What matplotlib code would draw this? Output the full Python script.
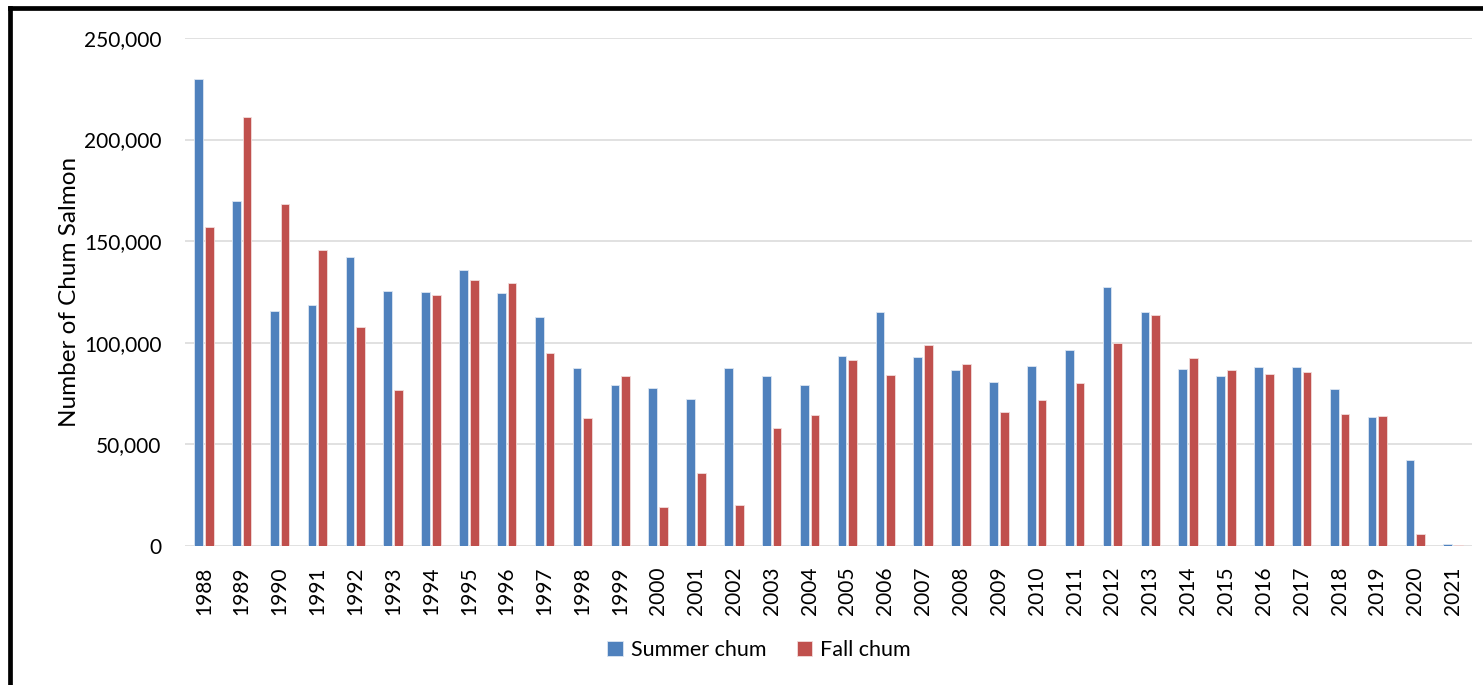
import numpy as np
import matplotlib.pyplot as plt
from matplotlib.lines import Line2D
from matplotlib.ticker import FuncFormatter

years = [str(y) for y in range(1988, 2022)]
summer_chum = [230000, 169600, 115500, 118600, 142100, 125500, 124800, 136000,
               124600, 112800, 87400, 79200, 77700, 72300, 87400, 83600,
               79200, 93300, 115300, 93000, 86600, 80600, 88500, 96400,
               127400, 115100, 87000, 83600, 88000, 87900, 77300, 63400,
               42400, 1000]
fall_chum = [156900, 211200, 168100, 145400, 107700, 76700, 123500, 130700,
             129200, 94900, 62800, 83400, 19100, 35800, 19900, 57800,
             64400, 91500, 84100, 98900, 89500, 66000, 71800, 80300,
             99700, 113600, 92300, 86400, 84700, 85600, 64900, 64000,
             5900, 300]

plt.rcParams['font.family'] = ['Lato', 'DejaVu Sans']

fig = plt.figure(figsize=(14.83, 6.85), dpi=100)
ax = fig.add_axes([0.1247, 0.2034, 0.8679, 0.7411])

x = np.arange(len(years))
w = 0.23
off = 0.141
ax.bar(x - off, summer_chum, w, color='#4F81BD', edgecolor='#DCE6F2', linewidth=0.6,
       label='Summer chum', zorder=3)
ax.bar(x + off, fall_chum, w, color='#C0504D', edgecolor='#F2DCDB', linewidth=0.6,
       label='Fall chum', zorder=3)

ax.set_xlim(-0.5, len(years) - 0.5)
ax.set_ylim(0, 250000)
ax.set_yticks(np.arange(0, 250001, 50000))
ax.yaxis.set_major_formatter(FuncFormatter(lambda v, p: f'{int(v):,}'))
ax.set_xticks(x)
ax.set_xticklabels(years, rotation=90)
ax.tick_params(axis='both', length=0, labelsize=15, colors='black')
ax.tick_params(axis='y', pad=17)
ax.tick_params(axis='x', pad=15)
ax.grid(axis='y', color='#D9D9D9', linewidth=1.1, zorder=0)
for s in ax.spines.values():
    s.set_visible(False)

ax.set_ylabel('Number of Chum Salmon', fontsize=17.5, labelpad=3)

fig.legend(loc='center', bbox_to_anchor=(0.512, 0.051), ncol=2, frameon=False,
           fontsize=15.5, handlelength=0.7, handleheight=0.7, handletextpad=0.4,
           columnspacing=1.4)

# black frame on the left and top
fig.add_artist(Line2D([0.0066, 0.0066], [0, 0.9883], transform=fig.transFigure,
                      color='black', linewidth=3.4, solid_capstyle='projecting'))
fig.add_artist(Line2D([0.0066, 1.0], [0.9883, 0.9883], transform=fig.transFigure,
                      color='black', linewidth=3.4, solid_capstyle='projecting'))

fig.savefig('out.png', dpi=100, facecolor='white')
